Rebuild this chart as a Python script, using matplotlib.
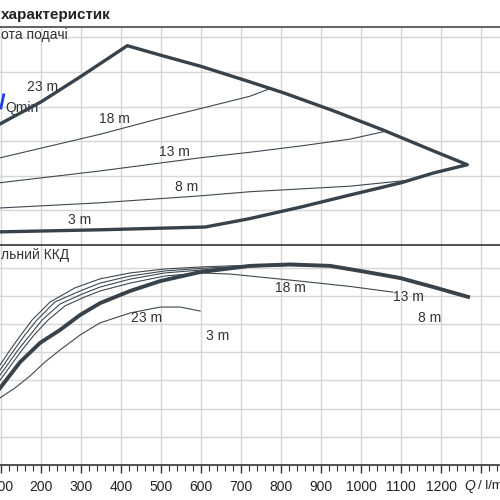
import matplotlib
matplotlib.use('Agg')
import matplotlib.pyplot as plt
from matplotlib.ticker import MultipleLocator

plt.rcParams['font.family'] = ['Liberation Sans', 'DejaVu Sans']

# Висота подачі: огинаюча (товста лінія)
env_q = [70, 97, 350, 610, 720, 850, 970, 1100, 1180, 1265, 1180, 1055, 930, 805, 720, 600, 500, 415, 300, 200, 97, 70]
env_h = [1.8, 1.9, 2.2, 2.6, 3.8, 5.5, 7.2, 9.0, 10.4, 11.6, 13.6, 16.6, 19.4, 22.0, 23.6, 25.8, 27.4, 28.8, 24.4, 20.7, 17.5, 16.6]

# тонкі лінії напору
h18_q = [72, 97, 222, 347, 484, 597, 722, 772]
h18_h = [12.1, 12.6, 14.3, 16.0, 18.1, 19.7, 21.5, 22.6]
h13_q = [72, 97, 347, 597, 722, 847, 972, 1058]
h13_h = [8.8, 9.0, 10.7, 12.6, 13.4, 14.3, 15.3, 16.4]
h8_q = [72, 97, 347, 597, 722, 847, 972, 1125]
h8_h = [5.2, 5.35, 6.1, 7.1, 7.7, 8.1, 8.5, 9.4]

qmin_q = [99, 106]
qmin_h = [19.8, 21.7]

# Загальний ККД
eta_q = [72, 97, 147, 197, 247, 297, 347, 422, 497, 597, 722, 822, 922, 1014, 1097, 1180, 1267]
eta_v = [23.0, 27.3, 36.5, 43.3, 47.9, 53.2, 57.4, 61.7, 65.2, 68.4, 70.6, 71.1, 70.6, 68.4, 66.3, 63.1, 59.6]

t1_q = [97, 122, 149, 177, 222, 284, 347, 422, 509, 597, 672, 747, 822, 922, 1014, 1097]
t1_v = [35.5, 40.8, 46.1, 51.4, 57.8, 62.8, 66.0, 68.1, 69.5, 70.2, 70.6, 70.9, 71.1, 70.6, 68.4, 66.0]
t2_q = [97, 132, 159, 189, 234, 297, 347, 422, 509, 597, 672, 747, 822, 922, 1014, 1097, 1180, 1267]
t2_v = [33.7, 40.8, 46.1, 51.4, 57.8, 61.7, 64.5, 67.0, 68.8, 69.7, 70.2, 70.6, 70.9, 70.4, 68.3, 66.0, 63.0, 59.6]
t3_q = [97, 142, 172, 202, 247, 297, 347, 422, 509, 597, 672, 747, 822, 922, 1014, 1097]
t3_v = [31.9, 40.8, 46.1, 51.4, 57.1, 60.3, 63.1, 65.9, 68.1, 69.1, 69.9, 70.4, 70.7, 70.4, 68.3, 66.0]
t18_q = [97, 152, 182, 217, 259, 309, 347, 422, 509, 597, 672, 722, 847, 972, 1079]
t18_v = [30.1, 40.8, 46.1, 51.4, 56.4, 59.6, 61.7, 64.5, 67.0, 68.1, 67.7, 67.0, 65.2, 63.3, 61.3]
t23_q = [72, 97, 134, 172, 209, 247, 297, 347, 422, 497, 547, 597]
t23_v = [20.5, 23.8, 27.3, 31.6, 36.5, 40.8, 46.1, 50.4, 53.9, 56.0, 56.0, 54.6]

xticks = list(range(0, 1500, 100))
xlabels = [str(v) if 100 <= v <= 1200 else '' for v in xticks]

dark = '#37424b'
thin = '#3e4850'
grid_c = '#d6d6d6'
txt_c = '#333333'

fig = plt.figure(figsize=(5, 5), dpi=100)
ax1 = fig.add_axes([-0.1, 0.51, 1.2, 0.436])
ax2 = fig.add_axes([-0.1, 0.07, 1.2, 0.44])

for ax in (ax1, ax2):
    ax.set_xlim(-28.25, 1471.75)
    ax.set_xticks(xticks)
    ax.grid(True, color=grid_c, lw=1)
    ax.set_axisbelow(True)
    for s in ('left', 'right'):
        ax.spines[s].set_visible(False)
    ax.tick_params(left=False, labelleft=False)

ax1.set_ylim(0, 31.5)
ax1.set_yticks(range(0, 35, 5))
ax1.tick_params(bottom=False, labelbottom=False)
ax1.spines['top'].set_color('#555555')
ax1.spines['top'].set_linewidth(1.3)
ax1.spines['bottom'].set_visible(False)

ax2.set_ylim(0, 78)
ax2.set_yticks(range(0, 80, 10))
ax2.set_xticklabels(xlabels, fontsize=10, color='#222222')
ax2.xaxis.set_minor_locator(MultipleLocator(20))
ax2.tick_params(axis='x', which='major', length=6, width=1, color='#333333', pad=5)
ax2.tick_params(axis='x', which='minor', length=4, width=0.8, color='#333333')
for s in ('top', 'bottom'):
    ax2.spines[s].set_color('#444444')
    ax2.spines[s].set_linewidth(1.3)

# верхня панель
for q, h in ((h18_q, h18_h), (h13_q, h13_h), (h8_q, h8_h)):
    ax1.plot(q, h, color=thin, lw=0.8, zorder=3)
ax1.plot(env_q, env_h, color=dark, lw=2.4, solid_joinstyle='round', zorder=4)
ax1.plot(qmin_q, qmin_h, color='#1a3ff5', lw=2, zorder=5)

lab = dict(fontsize=10, color=txt_c, ha='center', va='center', zorder=6)
ax1.text(204, 22.8, '23 m', **lab)
ax1.text(384, 18.2, '18 m', **lab)
ax1.text(532, 13.4, '13 m', **lab)
ax1.text(564, 8.4, '8 m', **lab)
ax1.text(297, 3.6, '3 m', **lab)
ax1.text(109, 19.8, 'Qmin', fontsize=10, color=txt_c, ha='left', va='center')

# нижня панель
for q, v in ((t1_q, t1_v), (t2_q, t2_v), (t3_q, t3_v), (t18_q, t18_v), (t23_q, t23_v)):
    ax2.plot(q, v, color=thin, lw=0.8, zorder=3)
ax2.plot(eta_q, eta_v, color=dark, lw=2.8, zorder=4)

ax2.text(464, 52.1, '23 m', **lab)
ax2.text(642, 45.7, '3 m', **lab)
ax2.text(824, 62.8, '18 m', **lab)
ax2.text(1117, 59.6, '13 m', **lab)
ax2.text(1172, 52.1, '8 m', **lab)

# заголовки (видимі частини, як у зразку)
fig.text(0.002, 0.97, 'характеристик', fontsize=11, fontweight='bold',
         color='#222222', ha='left', va='center')
fig.text(0.002, 0.93, 'ота подачі', fontsize=10, color=txt_c, ha='left', va='center')
fig.text(0.002, 0.49, 'льний ККД', fontsize=10, color=txt_c, ha='left', va='center')
fig.text(0.928, 0.028, 'Q', fontsize=10, style='italic', color='#222222', ha='left', va='center')
fig.text(0.956, 0.028, '/ l/m', fontsize=9.5, color='#222222', ha='left', va='center')

fig.savefig('out.png', dpi=100)
